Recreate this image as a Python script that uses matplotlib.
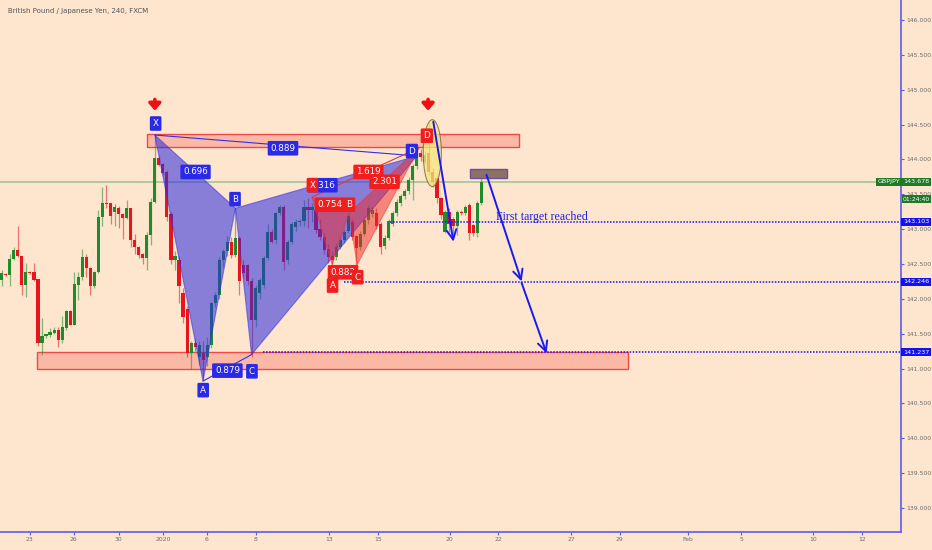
import numpy as np
import matplotlib
matplotlib.use("Agg")
import matplotlib.pyplot as plt
from matplotlib.patches import Rectangle, Ellipse, Polygon

# 4h GBPJPY candles (open, high, low, close)
opens = [142.27, 142.36, 142.34, 142.57, 142.70, 142.61, 142.20, 142.39, 142.38, 142.28,
         141.36, 141.46, 141.48, 141.51, 141.55, 141.41, 141.58, 141.82, 141.63, 142.20,
         142.32, 142.60, 142.44, 142.18, 142.38, 143.18, 143.37, 143.37, 143.24, 143.31,
         143.22, 143.16, 143.30, 142.84, 142.75, 142.65, 142.58, 142.91, 143.39, 144.02,
         143.93, 143.82, 143.22, 142.55, 142.56, 142.08, 141.86, 141.22, 141.36, 141.17,
         141.22, 141.17, 141.34, 141.94, 142.06, 142.56, 142.68, 142.82, 142.63, 142.87,
         142.49, 142.48, 142.25, 141.70, 142.08, 142.20, 142.58, 142.96, 142.84, 143.23,
         143.32, 142.56, 142.82, 143.03, 143.10, 143.11, 143.32, 143.27, 143.28, 143.00,
         142.89, 142.72, 142.62, 142.60, 142.75, 142.85, 142.98, 143.10, 142.90, 142.75,
         142.93, 143.13, 143.22, 143.23, 143.08, 142.76, 142.87, 143.08, 143.23, 143.37,
         143.47, 143.54, 143.71, 143.90, 144.09, 143.97, 144.09, 143.82, 143.73, 143.44,
         142.96, 143.25, 143.15, 143.04, 143.25, 143.23, 143.35, 143.06, 142.94, 143.37]
highs = [142.41, 142.37, 142.65, 142.75, 143.04, 142.62, 142.51, 142.40, 142.51, 142.29,
         141.72, 141.50, 141.58, 141.60, 141.60, 141.75, 141.84, 141.84, 142.38, 142.39,
         142.72, 142.65, 142.45, 142.40, 143.27, 143.61, 143.63, 143.38, 143.36, 143.33,
         143.23, 143.42, 143.31, 142.93, 142.76, 142.66, 142.96, 143.44, 144.35, 144.05,
         143.95, 143.85, 143.24, 142.68, 142.62, 142.15, 141.90, 141.40, 141.42, 141.40,
         141.40, 141.45, 141.96, 142.10, 142.60, 142.72, 142.90, 142.88, 143.30, 142.90,
         142.55, 142.50, 142.30, 142.20, 142.30, 142.62, 143.08, 143.00, 143.25, 143.35,
         143.35, 142.85, 143.10, 143.15, 143.15, 143.42, 143.44, 143.37, 143.35, 143.15,
         142.95, 142.78, 142.68, 142.80, 142.90, 143.00, 143.23, 143.15, 142.92, 142.98,
         143.18, 143.35, 143.32, 143.30, 143.10, 142.92, 143.15, 143.26, 143.43, 143.50,
         143.58, 143.75, 143.93, 144.18, 144.15, 144.12, 144.54, 143.88, 143.75, 143.46,
         143.27, 143.30, 143.18, 143.28, 143.27, 143.35, 143.37, 143.08, 143.40, 143.78]
lows = [142.18, 142.33, 142.18, 142.56, 142.60, 142.06, 142.03, 142.36, 142.25, 141.33,
        141.20, 141.44, 141.45, 141.50, 141.31, 141.36, 141.56, 141.62, 141.62, 141.98,
        142.27, 142.32, 142.06, 142.16, 142.37, 143.04, 143.30, 143.08, 143.04, 143.01,
        142.86, 143.14, 142.75, 142.65, 142.58, 142.50, 142.41, 142.77, 143.38, 143.90,
        143.78, 143.12, 142.50, 142.42, 141.94, 141.65, 141.17, 141.00, 141.25, 141.05,
        140.83, 141.03, 141.30, 141.88, 142.00, 142.45, 142.62, 142.58, 142.60, 142.06,
        142.30, 142.20, 141.17, 141.60, 142.00, 142.15, 142.55, 142.80, 142.78, 143.20,
        142.41, 142.50, 142.78, 142.98, 143.05, 143.05, 143.01, 143.10, 142.95, 142.85,
        142.65, 142.51, 142.49, 142.55, 142.72, 142.80, 142.95, 142.85, 142.49, 142.70,
        142.90, 143.08, 143.18, 143.00, 142.65, 142.72, 142.85, 143.04, 143.19, 143.33,
        143.43, 143.50, 143.42, 143.86, 143.98, 143.93, 143.78, 143.60, 143.37, 143.15,
        142.94, 142.96, 142.87, 142.92, 143.20, 143.20, 142.84, 142.90, 142.88, 143.35]
closes = [142.37, 142.34, 142.57, 142.70, 142.61, 142.20, 142.38, 142.37, 142.27, 141.36,
          141.46, 141.49, 141.53, 141.56, 141.41, 141.59, 141.82, 141.63, 142.21, 142.32,
          142.60, 142.44, 142.18, 142.39, 143.18, 143.37, 143.36, 143.19, 143.32, 143.22,
          143.16, 143.30, 142.84, 142.75, 142.63, 142.58, 142.91, 143.39, 144.02, 143.92,
          143.80, 143.18, 142.56, 142.61, 142.18, 141.74, 141.22, 141.37, 141.31, 141.34,
          141.12, 141.34, 141.94, 142.06, 142.56, 142.68, 142.82, 142.63, 142.87, 142.25,
          142.37, 142.25, 141.70, 142.15, 142.27, 142.58, 142.96, 142.82, 143.23, 143.32,
          142.53, 142.82, 143.08, 143.10, 143.11, 143.32, 143.27, 143.32, 142.99, 142.89,
          142.70, 142.60, 142.55, 142.75, 142.85, 142.96, 143.19, 142.88, 142.73, 142.93,
          143.13, 143.30, 143.28, 143.04, 142.75, 142.87, 143.11, 143.23, 143.39, 143.47,
          143.54, 143.71, 143.90, 144.04, 144.04, 144.06, 143.82, 143.68, 143.44, 143.20,
          143.25, 143.08, 143.04, 143.25, 143.23, 143.32, 142.94, 142.94, 143.37, 143.68]

# date axis (candle index positions of day labels)
tick_pos = [7.0, 17.9, 29.1, 40.0, 50.9, 63.1, 81.2, 93.4, 111.2, 123.2,
            141.3, 153.4, 170.3, 183.5, 201.3, 213.5]
tick_labels = ["23", "26", "30", "2020", "6", "8", "13", "15", "20", "22",
               "27", "29", "Feb", "5", "10", "12"]
price_ticks = np.arange(139.0, 146.01, 0.5)

# harmonic patterns (X, A, B, C, D) as (candle index, price)
blue_pts = [(38.0, 144.35), (49.95, 140.82), (58.0, 143.30), (62.0, 141.20), (103.0, 144.05)]
red_pts = [(77.0, 143.46), (82.0, 142.49), (86.2, 143.23), (88.2, 142.49), (103.6, 144.17)]
blue_tags = [(38.2, 144.515, "X"), (50.0, 140.69, "A"), (57.9, 143.43, "B"),
             (62.1, 140.96, "C"), (101.8, 144.12, "D"),
             (48.1, 143.82, "0.696"), (56.0, 140.97, "0.879"), (69.8, 144.16, "0.889"),
             (79.6, 143.63, "1.316")]
red_tags = [(77.1, 143.63, "X"), (81.5, 143.35, "0.754"), (86.3, 143.35, "B"),
            (91.0, 143.82, "1.619"), (95.0, 143.68, "2.301"), (84.7, 142.38, "0.882"),
            (88.3, 142.31, "C"), (82.1, 142.19, "A"), (105.5, 144.34, "D")]

# zones, levels and projections
top_zone = (36.1, 128.3, 144.18, 144.365)
bottom_zone = (8.8, 155.4, 140.99, 141.24)
brown_box = (116.2, 125.3, 143.74, 143.86)
targets = [143.103, 142.246, 141.237]
target_start = [96.4, 85.0, 64.9]
last_price = 143.678
proj_arrows = [((107.1, 144.54), (112.1, 142.82)),
               ((120.3, 143.78), (129.0, 142.25)),
               ((129.0, 142.23), (135.2, 141.22))]
sell_marks = [38.0, 105.8]

bg = "#fde5ce"
green = "#1f8c2c"
red = "#e8141e"
blue_tag = "#2a2ae6"
red_tag = "#f01e1e"

fig = plt.figure(figsize=(9.32, 5.5), dpi=100, facecolor=bg)
ax = fig.add_axes([0, 18 / 550, 901 / 932, 532 / 550], facecolor=bg)
ax.set_xlim(-0.42, 223.15)
ax.set_ylim(138.655, 146.287)

# zones
for x0, x1, y0, y1 in [top_zone, bottom_zone]:
    ax.add_patch(Rectangle((x0, y0), x1 - x0, y1 - y0, fc="#fbb8a4", ec="#f04848",
                           lw=1, zorder=1))
x0, x1, y0, y1 = brown_box
ax.add_patch(Rectangle((x0, y0), x1 - x0, y1 - y0, fc="#8c7266", ec="#6c4fa0",
                       lw=1, zorder=3))

# last price line
ax.axhline(last_price, color="#aac79c", lw=1.3, zorder=1)

# candles
idx = np.arange(len(opens))
o = np.array(opens)
c = np.array(closes)
up = c >= o
cols = np.where(up, green, red)
ax.vlines(idx, lows, highs, colors=cols, lw=0.9, alpha=0.55, zorder=2)
body = np.maximum(np.abs(c - o), 0.014)
ax.bar(idx, body, bottom=np.minimum(o, c), width=0.78, color=cols, lw=0, zorder=2)

# blue pattern
bp = blue_pts
for tri in [(bp[0], bp[1], bp[2]), (bp[2], bp[3], bp[4])]:
    ax.add_patch(Polygon(tri, closed=True, fc="#2929e0", alpha=0.55, ec="#3030e8",
                         lw=0.8, zorder=3))
for a, b in [(bp[0], bp[4]), (bp[1], bp[3])]:
    ax.plot([a[0], b[0]], [a[1], b[1]], color="#3030e8", lw=0.8, zorder=3)

# red pattern
rp = red_pts
for tri in [(rp[0], rp[1], rp[2]), (rp[2], rp[3], rp[4])]:
    ax.add_patch(Polygon(tri, closed=True, fc="#f02828", alpha=0.5, ec="#f03030",
                         lw=0.8, zorder=4))
for a, b in [(rp[0], rp[4]), (rp[1], rp[3])]:
    ax.plot([a[0], b[0]], [a[1], b[1]], color="#f03030", lw=0.8, zorder=4)

def tag(x, y, s, color, z):
    ax.text(x, y, s, ha="center", va="center", color="white", fontsize=6.3, zorder=z,
            bbox=dict(boxstyle="round,pad=0.32,rounding_size=0.15", fc=color, ec="none"))

for x, y, s in blue_tags:
    tag(x, y, s, blue_tag, 6)
for x, y, s in red_tags:
    tag(x, y, s, red_tag, 7)

# ellipse around the D peak
ax.add_patch(Ellipse((106.85, 144.09), 4.5, 0.96, fc="#f8e87c", ec="#6b6040",
                     lw=0.8, alpha=0.75, zorder=5))

# sell arrows
for xm in sell_marks:
    ax.annotate("", xy=(xm, 144.66), xytext=(xm, 144.90),
                arrowprops=dict(arrowstyle="-|>,head_length=0.4,head_width=0.35",
                                color="#f01010", lw=2.6), zorder=8)

# target levels
for lvl, xs in zip(targets, target_start):
    ax.hlines(lvl, xs, 223.15, colors="#1818f0", linestyles=(0, (1, 1)), lw=1.1, zorder=2)
    ax.text(1.002, lvl, f"{lvl:.3f}", transform=ax.get_yaxis_transform(), ha="left",
            va="center", color="white", fontsize=4.6, zorder=9, clip_on=False,
            bbox=dict(boxstyle="square,pad=0.25", fc="#1212f0", ec="none"))

# projections
for (xa, ya), (xb, yb) in proj_arrows:
    ax.annotate("", xy=(xb, yb), xytext=(xa, ya),
                arrowprops=dict(arrowstyle="->,head_length=0.7,head_width=0.35",
                                color="#1a1af0", lw=1.4, shrinkA=0, shrinkB=0), zorder=8)

ax.text(122.7, 143.17, "First target reached", color="#2020e0", fontsize=8.6,
        family="Liberation Serif", ha="left", va="center", zorder=8)

# current price tags
ax.text(0.999, last_price, "GBPJPY", transform=ax.get_yaxis_transform(), ha="right",
        va="center", color="white", fontsize=4.6, zorder=9,
        bbox=dict(boxstyle="square,pad=0.25", fc="#1e7a26", ec="none"))
ax.text(1.002, last_price, f"{last_price:.3f}", transform=ax.get_yaxis_transform(),
        ha="left", va="center", color="white", fontsize=4.6, zorder=9, clip_on=False,
        bbox=dict(boxstyle="square,pad=0.25", fc="#1e7a26", ec="none"))
ax.text(1.002, 143.43, "01:24:40", transform=ax.get_yaxis_transform(),
        ha="left", va="center", color="white", fontsize=4.4, zorder=9, clip_on=False,
        bbox=dict(boxstyle="square,pad=0.2", fc="#1e7a26", ec="none"))

# axes styling
for side in ["top", "left"]:
    ax.spines[side].set_visible(False)
for side in ["right", "bottom"]:
    ax.spines[side].set_color("#5b5bef")
    ax.spines[side].set_linewidth(1.2)
ax.yaxis.tick_right()
ax.set_yticks(price_ticks)
ax.set_yticklabels([f"{p:.3f}" for p in price_ticks])
ax.set_xticks(tick_pos)
ax.set_xticklabels(tick_labels)
ax.tick_params(axis="both", labelsize=4.4, labelcolor="#6e6e6e", color="#5b5bef",
               length=2.5, width=0.8, pad=1.2)

fig.text(8 / 932, 1 - 11 / 550, "British Pound / Japanese Yen, 240, FXCM",
         fontsize=5, color="#555555", va="center", ha="left")

fig.savefig("out.png", dpi=100, facecolor=bg)
